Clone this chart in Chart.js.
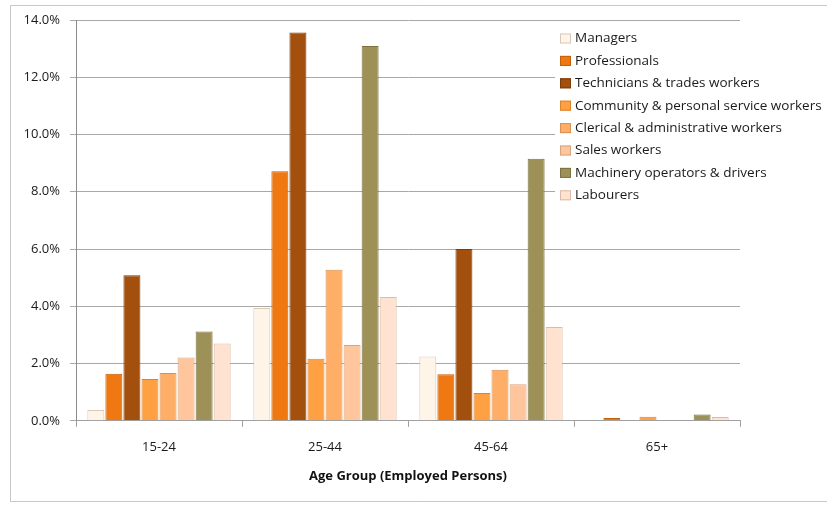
<!DOCTYPE html>
<html>
<head>
<meta charset="utf-8">
<script src="https://cdn.jsdelivr.net/npm/chart.js@4/dist/chart.umd.min.js"></script>
<style>
  html, body { margin: 0; padding: 0; background: #fff; }
  #wrap { width: 827px; height: 507px; position: relative; }
</style>
</head>
<body>
<div id="wrap"><canvas id="chart"></canvas></div>
<script>
// ── Data ────────────────────────────────────────────
const ageGroups = ['15-24', '25-44', '45-64', '65+'];
const occupations = [
  'Managers',
  'Professionals',
  'Technicians & trades workers',
  'Community & personal service workers',
  'Clerical & administrative workers',
  'Sales workers',
  'Machinery operators & drivers',
  'Labourers',
];
const managers     = [0.38, 3.94, 2.25, 0.0];
const professionals = [1.64, 8.72, 1.63, 0.1];
const technicians  = [5.08, 13.56, 6.0, 0.0];
const community    = [1.46, 2.17, 0.97, 0.14];
const clerical     = [1.67, 5.28, 1.78, 0.0];
const sales        = [2.21, 2.65, 1.28, 0.0];
const machinery    = [3.12, 13.09, 9.15, 0.22];
const labourers    = [2.70, 4.32, 3.28, 0.13];
const yTicks = [0, 2, 4, 6, 8, 10, 12, 14];

const seriesValues = [managers, professionals, technicians, community, clerical, sales, machinery, labourers];
const fillColors = ['#fff4e8', '#f07812', '#a34f0d', '#ffa043', '#ffae68', '#ffc69e', '#9e9158', '#ffe2d0'];
const edgeColors = ['#d9c9b9', '#c25f0a', '#7d3b08', '#d98530', '#d99050', '#d9a37e', '#7c713f', '#d9bba8'];

const FONT = "'Open Sans', 'DejaVu Sans', sans-serif";

// ── Frame, clipped title and legend ─────────────────
const decorPlugin = {
  id: 'decor',
  beforeDraw(chart) {
    const ctx = chart.ctx;
    ctx.save();
    ctx.fillStyle = '#fff';
    ctx.fillRect(0, 0, chart.width, chart.height);
    ctx.strokeStyle = '#c8c8c8';
    ctx.lineWidth = 1;
    ctx.beginPath();
    ctx.moveTo(chart.width, 5.5);
    ctx.lineTo(10.5, 5.5);
    ctx.lineTo(10.5, 501.5);
    ctx.lineTo(chart.width, 501.5);
    ctx.stroke();
    // title sits above the frame and is mostly cut off
    ctx.fillStyle = '#000';
    ctx.font = "bold 20px " + FONT;
    ctx.textBaseline = 'alphabetic';
    ctx.fillText('Figure 5: Occupation Type, by Age Group', -19, -5);
    ctx.restore();
  },
  afterDraw(chart) {
    const ctx = chart.ctx;
    ctx.save();
    ctx.fillStyle = '#fff';
    ctx.fillRect(555, 25, chart.width - 555, 182);
    ctx.font = "13.5px " + FONT;
    ctx.textBaseline = 'middle';
    chart.data.datasets.forEach((ds, i) => {
      const y = 38.5 + i * 22.4;
      ctx.fillStyle = ds.backgroundColor;
      ctx.fillRect(560, y - 5, 11, 10);
      ctx.strokeStyle = ds.borderColor;
      ctx.strokeRect(560.5, y - 4.5, 10, 9);
      ctx.fillStyle = '#1a1a1a';
      ctx.fillText(ds.label, 575, y);
    });
    ctx.restore();
  },
};

new Chart(document.getElementById('chart').getContext('2d'), {
  type: 'bar',
  data: {
    labels: ageGroups,
    datasets: occupations.map((name, i) => ({
      label: name,
      data: seriesValues[i],
      backgroundColor: fillColors[i],
      borderColor: edgeColors[i],
      borderWidth: 1,
      categoryPercentage: 0.87,
      barPercentage: 0.94,
    })),
  },
  options: {
    responsive: true,
    maintainAspectRatio: false,
    animation: false,
    layout: { padding: { top: 20, right: 87, bottom: 23, left: 0 } },
    plugins: {
      legend: { display: false },
      tooltip: { enabled: false },
    },
    scales: {
      x: {
        grid: { offset: true, drawOnChartArea: false, tickLength: 6, color: '#a0a0a0' },
        border: { color: '#a0a0a0' },
        ticks: { color: '#1a1a1a', font: { family: FONT, size: 13 }, padding: 13 },
        title: {
          display: true,
          text: 'Age Group (Employed Persons)',
          color: '#111',
          font: { family: FONT, size: 13, weight: 'bold' },
          padding: { top: 0, bottom: 0 },
        },
      },
      y: {
        min: 0,
        max: 14,
        afterFit: s => { s.width = 76; },
        afterBuildTicks: s => { s.ticks = yTicks.map(v => ({ value: v })); },
        grid: { color: '#a8a8a8', tickLength: 6 },
        border: { color: '#8c8c8c' },
        ticks: {
          color: '#1a1a1a',
          font: { family: FONT, size: 13 },
          padding: 10,
          callback: v => v.toFixed(1) + '%',
        },
      },
    },
  },
  plugins: [decorPlugin],
});
</script>
</body>
</html>
